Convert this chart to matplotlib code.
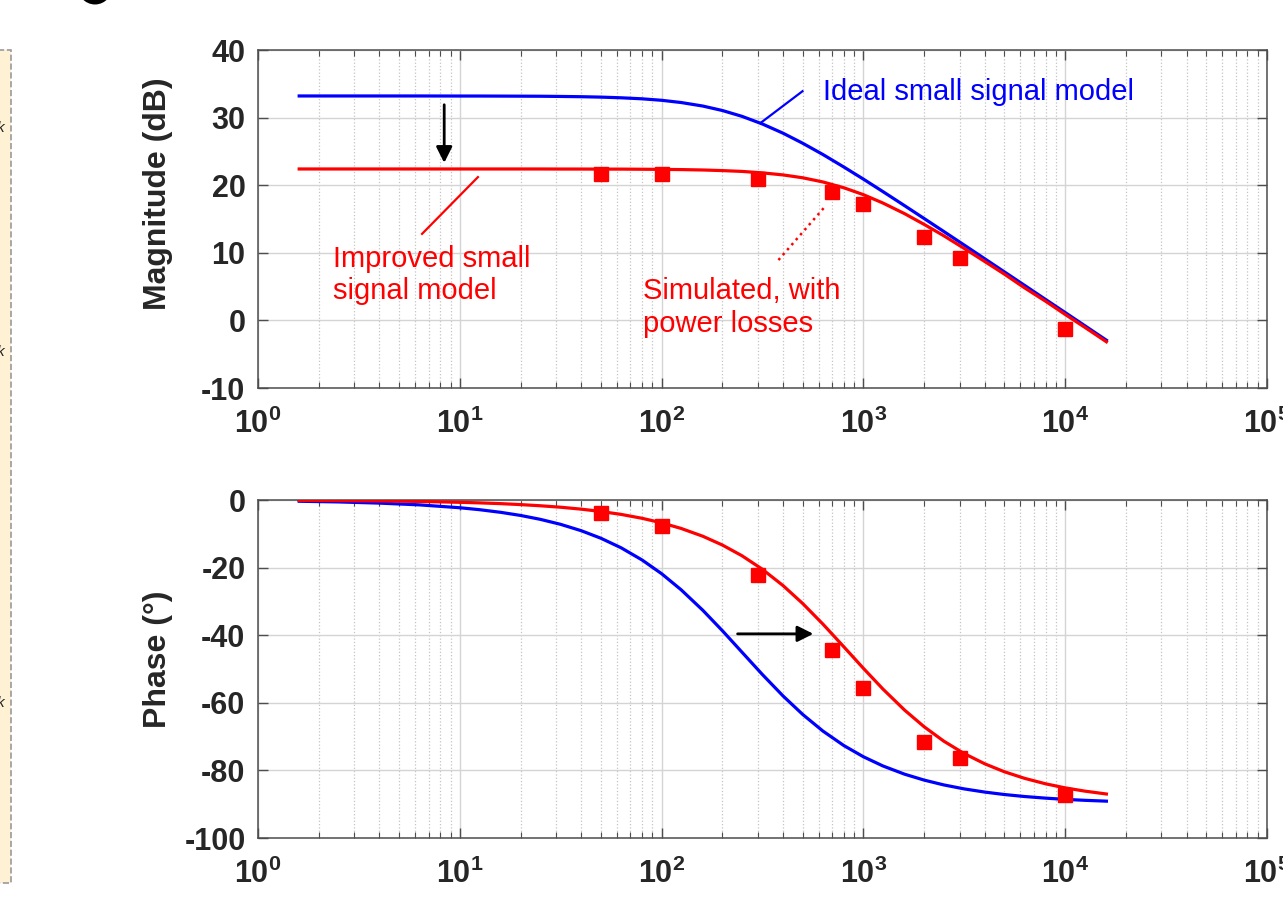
import matplotlib
matplotlib.use("Agg")
import matplotlib.pyplot as plt
from matplotlib.patches import Rectangle, Ellipse
from matplotlib.ticker import LogLocator, FixedLocator, NullFormatter

plt.rcParams['font.family'] = ['Liberation Sans', 'DejaVu Sans']
plt.rcParams['mathtext.fontset'] = 'custom'
plt.rcParams['mathtext.rm'] = 'Liberation Sans:bold'
plt.rcParams['mathtext.bf'] = 'Liberation Sans:bold'
plt.rcParams['axes.unicode_minus'] = False

# model curves (Hz, dB, deg)
freq = [1.6, 2.5, 4, 6.3, 10, 12.5, 16, 20, 25, 31.5, 40, 50, 63, 80, 100, 125,
        160, 200, 250, 315, 400, 500, 630, 800, 1000, 1250, 1600, 2000, 2500,
        3150, 4000, 5000, 6300, 8000, 10000, 12500, 16000]
ideal_mag = [33.2, 33.2, 33.2, 33.2, 33.19, 33.19, 33.18, 33.17, 33.16, 33.13,
             33.09, 33.03, 32.93, 32.78, 32.56, 32.23, 31.71, 31.05, 30.19, 29.07,
             27.69, 26.21, 24.54, 22.69, 20.90, 19.05, 16.97, 15.07, 13.16, 11.17,
             9.10, 7.17, 5.17, 3.09, 1.16, -0.78, -2.93]
ideal_phase = [-0.37, -0.57, -0.92, -1.44, -2.29, -2.86, -3.66, -4.57, -5.71,
               -7.18, -9.09, -11.31, -14.14, -17.74, -21.80, -26.57, -32.62,
               -38.66, -45.0, -51.56, -57.99, -63.43, -68.36, -72.65, -75.96,
               -78.69, -81.12, -82.87, -84.29, -85.46, -86.42, -87.14, -87.73,
               -88.21, -88.57, -88.85, -89.10]
improved_mag = [22.4, 22.4, 22.4, 22.4, 22.4, 22.4, 22.4, 22.4, 22.4, 22.39,
                22.39, 22.38, 22.38, 22.36, 22.34, 22.31, 22.25, 22.16, 22.04,
                21.83, 21.52, 21.10, 20.48, 19.62, 18.60, 17.36, 15.79, 14.20,
                12.53, 10.67, 8.70, 6.84, 4.80, 2.83, 0.88, -1.02, -3.16]
improved_phase = [-0.11, -0.17, -0.27, -0.43, -0.68, -0.85, -1.08, -1.36, -1.70,
                  -2.13, -2.71, -3.39, -4.26, -5.41, -6.75, -8.42, -10.72, -13.32,
                  -16.48, -20.45, -25.33, -30.61, -36.71, -43.44, -49.80, -55.94,
                  -62.16, -67.09, -71.33, -74.98, -78.07, -80.41, -82.36, -83.97,
                  -85.17, -86.13, -86.98]

# simulated points
sim_freq = [50, 100, 300, 700, 1000, 2000, 3000, 10000]
sim_mag = [21.6, 21.6, 20.9, 19.0, 17.2, 12.4, 9.3, -1.2]
sim_phase = [-3.8, -7.7, -22.2, -44.4, -55.5, -71.7, -76.3, -87.3]

decade_labels = [r'$\mathbf{10^{%d}}$' % i for i in range(6)]

W, H = 1283, 898
fig = plt.figure(figsize=(W / 100, H / 100), dpi=100)

ax1 = fig.add_axes([258 / W, 1 - 388 / H, 1009 / W, 338 / H])
ax2 = fig.add_axes([258 / W, 1 - 838 / H, 1009 / W, 338 / H])

blue = '#0000ff'
red = '#ff0000'

ax1.plot(freq, ideal_mag, color=blue, lw=2.3, zorder=3)
ax1.plot(freq, improved_mag, color=red, lw=2.3, zorder=3)
ax1.plot(sim_freq, sim_mag, 's', color=red, ms=10.5, zorder=4)

ax2.plot(freq, ideal_phase, color=blue, lw=2.3, zorder=3)
ax2.plot(freq, improved_phase, color=red, lw=2.3, zorder=3)
ax2.plot(sim_freq, sim_phase, 's', color=red, ms=10.5, zorder=4)

for ax, ylim, step in [(ax1, (-10, 40), 10), (ax2, (-100, 0), 20)]:
    ax.set_xscale('log')
    ax.set_xlim(1, 1e5)
    ax.set_ylim(*ylim)
    ax.xaxis.set_major_locator(FixedLocator([10 ** i for i in range(6)]))
    ax.set_xticklabels(decade_labels)
    ax.xaxis.set_minor_locator(LogLocator(base=10, subs=range(2, 10), numticks=20))
    ax.xaxis.set_minor_formatter(NullFormatter())
    ax.set_yticks(range(ylim[0], ylim[1] + 1, step))
    ax.grid(True, which='major', color='#d4d4d4', lw=1.0, ls='-')
    ax.grid(True, which='minor', axis='x', color='#c4c4c4', lw=0.9, ls=':')
    ax.set_axisbelow(True)
    ax.tick_params(which='both', direction='in', top=True, right=True,
                   colors='#4d4d4d', labelcolor='#262626')
    ax.tick_params(which='major', length=7, width=1, labelsize=22)
    ax.tick_params(axis='y', which='major', pad=9)
    ax.tick_params(axis='x', which='major', pad=15)
    ax.tick_params(which='minor', length=4, width=0.8)
    for lab in ax.get_yticklabels():
        lab.set_fontweight('bold')
    for sp in ax.spines.values():
        sp.set_color('#4d4d4d')
        sp.set_linewidth(1.1)

ax1.set_ylabel('Magnitude (dB)', fontsize=23, fontweight='bold', color='#262626')
ax1.yaxis.set_label_coords(-0.084, 0.574)
ax2.set_ylabel('Phase (°)', fontsize=23, fontweight='bold', color='#262626')
ax2.yaxis.set_label_coords(-0.084, 0.53)

# annotations on magnitude plot
ax1.plot([309, 499], [29.2, 33.9], color=blue, lw=1.6, zorder=3)
ax1.text(628, 33.8, 'Ideal small signal model', color=blue, fontsize=21,
         ha='left', va='center')
ax1.annotate('', xy=(8.37, 23.3), xytext=(8.37, 31.9),
             arrowprops=dict(arrowstyle='-|>', color='black', lw=2,
                             mutation_scale=24, shrinkA=0, shrinkB=0))
ax1.plot([12.3, 6.5], [21.2, 12.8], color=red, lw=1.6, zorder=3)
ax1.text(2.36, 6.7, 'Improved small\nsignal model', color=red, fontsize=21,
         ha='left', va='center', linespacing=1.18)
ax1.plot([635, 371], [16.6, 8.6], color=red, lw=1.8, ls=':', zorder=3)
ax1.text(81, 1.9, 'Simulated, with\npower losses', color=red, fontsize=21,
         ha='left', va='center', linespacing=1.22)

# shift arrow on phase plot
ax2.annotate('', xy=(565, -39.6), xytext=(238, -39.6),
             arrowprops=dict(arrowstyle='-|>', color='black', lw=2,
                             mutation_scale=24, shrinkA=0, shrinkB=0))

# leftover pieces of the neighbouring panel at the left edge
fig.patches.append(Rectangle((-6 / W, 1 - 883 / H), 17 / W, 833 / H,
                             transform=fig.transFigure, facecolor='#fff2d4',
                             edgecolor='#9a9a9a', ls='--', lw=1.2))
for py in [128, 352, 703]:
    fig.text(-3 / W, 1 - py / H, 'k', fontsize=11, style='italic',
             ha='left', va='center', color='#222222')
fig.add_artist(Ellipse((95 / W, 1 + 16 / H), 30 / W, 34 / H, fill=False,
                       lw=5, color='black', transform=fig.transFigure))

fig.savefig('out.png', dpi=100)
